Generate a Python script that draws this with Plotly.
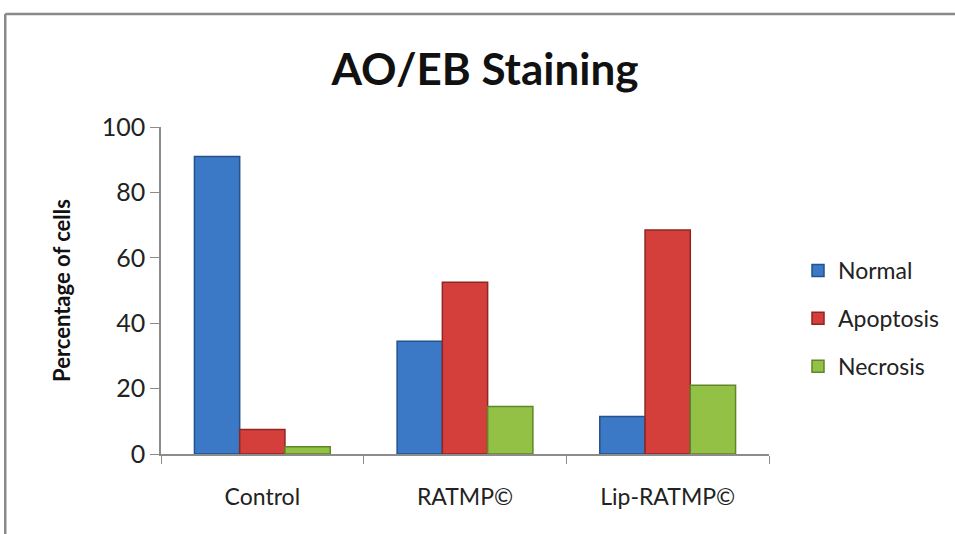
import plotly.graph_objects as go

categories = ["Control", "RATMP©", "Lip-RATMP©"]
series_names = ["Normal", "Apoptosis", "Necrosis"]
normal = [91, 34.5, 11.5]
apoptosis = [7.5, 52.5, 68.5]
necrosis = [2.2, 14.5, 21]
y_ticks = [0, 20, 40, 60, 80, 100]

values = [normal, apoptosis, necrosis]
fills = ["#3B78C6", "#D43F3C", "#93C146"]
lines = ["#24528C", "#8E2623", "#5F8628"]

FONT = "Lato"

fig = go.Figure()
for name, vals, fc, lc in zip(series_names, values, fills, lines):
    fig.add_trace(go.Bar(
        name=name, x=categories, y=vals,
        marker=dict(color=fc, line=dict(color=lc, width=1.5)),
        legendgroup=name,
    ))

L, R, T, B = 161, 770, 127, 454
W, H = 955, 534

fig.update_layout(
    width=W, height=H,
    margin=dict(l=L, r=W - R, t=T, b=H - B),
    paper_bgcolor="white", plot_bgcolor="white",
    barmode="group", bargap=0.33, bargroupgap=0,
    font=dict(family=FONT, color="#222222"),
    title=dict(text="<b>AO/EB Staining</b>", x=(485) / W, xanchor="center",
               y=1 - 70 / H, yanchor="middle",
               font=dict(size=44, family=FONT, color="#111111")),
    legend=dict(x=(798 - L) / (R - L), xanchor="left", y=(454 - 249) / (B - T), yanchor="top",
                font=dict(size=23, family=FONT, color="#222222"),
                tracegroupgap=15, bgcolor="rgba(0,0,0,0)"),
    showlegend=True,
)
fig.update_xaxes(
    showline=True, linecolor="#8C8C8C", linewidth=1.5,
    ticks="outside", ticklen=8, tickcolor="#8C8C8C", tickson="boundaries",
    tickfont=dict(size=23, family=FONT, color="#222222"),
    ticklabelstandoff=22, showgrid=False,
)
fig.update_yaxes(
    range=[0, 100], tickvals=y_ticks, showline=True, linecolor="#8C8C8C", linewidth=1.5,
    ticks="outside", ticklen=9, tickcolor="#8C8C8C", showgrid=False, zeroline=False,
    tickfont=dict(size=25, family=FONT, color="#222222"),
    title=dict(text="<b>Percentage of cells</b>", font=dict(size=22, family=FONT, color="#111111"),
               standoff=25),
)
# chart frame (top and left edges visible)
px = lambda v: (v - L) / (R - L)
py = lambda v: (B - v) / (B - T)
fig.add_shape(type="line", xref="paper", yref="paper", x0=px(5), x1=px(960), y0=py(14), y1=py(14),
              line=dict(color="#8A8A8A", width=2.5))
fig.add_shape(type="line", xref="paper", yref="paper", x0=px(5), x1=px(5), y0=py(14), y1=py(540),
              line=dict(color="#8A8A8A", width=2.5))

fig.write_html("out.html")
